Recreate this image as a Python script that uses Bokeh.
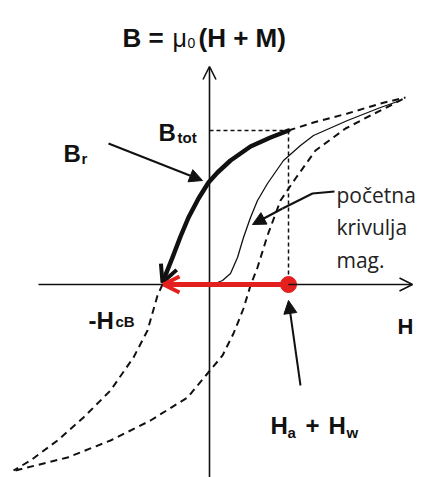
from bokeh.plotting import figure
from bokeh.models import Range1d, Arrow, OpenHead, NormalHead
from bokeh.embed import file_html
from bokeh.resources import INLINE
from bokeh.core.properties import value

# ---- curves, in diagram units (H to the right, B upward, origin at the axis crossing)
# descending branch, thick solid part (from B_tot down to -H_cB)
thick_H = [79, 61, 41, 21, 8, -1, -11, -21, -29, -37, -43]
thick_B = [154, 147, 138, 124, 112, 102, 86, 67, 48, 27, 12]
thick_tip = (-47, 2)
# descending branch, dashed, right of B_tot
upper_H = [79, 104, 138, 171, 196]
upper_B = [154, 162, 171, 181, 187]
# descending branch, dashed, below the H axis
left_H = [-47, -52, -62, -76, -99, -126, -152, -179, -196]
left_B = [0, -11, -46, -73, -106, -133, -156, -176, -186]
# ascending branch, dashed
asc_H = [-194, -142, -99, -59, -22, -2, 13, 24, 34, 41, 48, 58, 71, 86, 106, 136, 161, 181, 196]
asc_B = [-186, -173, -156, -136, -113, -89, -71, -49, -24, -1, 17, 49, 84, 106, 134, 156, 169, 179, 187]
# initial magnetisation curve (thin solid)
init_H = [3, 13, 21, 28, 34, 41, 48, 58, 74, 91, 104, 138, 171, 191]
init_B = [0, 4, 11, 27, 47, 67, 84, 101, 124, 139, 149, 164, 177, 184]

# working point
H_work = 79          # H_a + H_w
B_tot = 154
H_cB = -46

RED = "#e3201e"
INK = "#111111"

p = figure(width=421, height=477,
           x_range=Range1d(-209, 212), y_range=Range1d(-193, 284),
           x_axis_location=None, y_axis_location=None,
           output_backend="svg", toolbar_location=None, min_border=0)
p.grid.visible = False
p.outline_line_color = None
p.background_fill_color = "white"
p.border_fill_color = "white"

# axes with arrows
p.add_layout(Arrow(end=OpenHead(size=13, line_width=1.6, line_color=INK),
                   x_start=-171, y_start=0, x_end=203, y_end=0,
                   line_width=1.6, line_color=INK))
p.add_layout(Arrow(end=OpenHead(size=13, line_width=1.6, line_color=INK),
                   x_start=0, y_start=-195, x_end=0, y_end=218,
                   line_width=1.6, line_color=INK))

# dashed hysteresis parts
dash = "7 5"
p.line(upper_H, upper_B, line_width=2, line_color=INK, line_dash=dash)
p.line(left_H, left_B, line_width=2, line_color=INK, line_dash=dash)
p.line(asc_H, asc_B, line_width=2, line_color=INK, line_dash=dash)

# guides to B_tot
p.line([0, H_work], [B_tot, B_tot], line_width=1.5, line_color=INK, line_dash="4 3")
p.line([H_work, H_work], [B_tot, 0], line_width=1.5, line_color=INK, line_dash="4 3")

# initial curve
p.line(init_H, init_B, line_width=1.3, line_color=INK)

# thick recoil curve with arrow
p.line(thick_H, thick_B, line_width=4.5, line_color=INK, line_cap="round", line_join="round")
p.add_layout(Arrow(end=OpenHead(size=17, line_width=4, line_color=INK),
                   x_start=thick_H[-1], y_start=thick_B[-1],
                   x_end=thick_tip[0], y_end=thick_tip[1],
                   line_width=4.5, line_color=INK))

# red demagnetising arrow
p.add_layout(Arrow(end=OpenHead(size=16, line_width=4, line_color=RED),
                   x_start=H_work, y_start=0, x_end=H_cB, y_end=0,
                   line_width=5, line_color=RED))
p.scatter([H_work], [0], size=16, color=RED)

# pointer arrows
def pointer(x0, y0, x1, y1):
    p.add_layout(Arrow(end=NormalHead(size=13, fill_color=INK, line_color=INK),
                       x_start=x0, y_start=y0, x_end=x1, y_end=y1,
                       line_width=2, line_color=INK))

pointer(-101, 141, -7, 104)                # B_r
p.line([125, 103, 73], [93, 91, 76], line_width=2, line_color=INK)
pointer(73, 76, 43, 60)                    # pocetna krivulja
pointer(91, -101, 79, -16)                 # H_a + H_w

# ---- labels
# title B = mu0(H + M)
p.text([-87, -11], [247, 247], text=["B =", "(H + M)"], text_font=value("Liberation Sans"),
       text_font_size="26px", text_font_style="bold", text_color=INK,
       text_baseline="alphabetic", text_align="left")
p.text([-37], [247], text=["μ"], text_font=value("Liberation Sans"),
       text_font_size="25px", text_color=INK,
       text_baseline="alphabetic", text_align="left")
p.text([-22], [242], text=["0"], text_font=value("Liberation Sans"),
       text_font_size="14px", text_color=INK,
       text_baseline="alphabetic", text_align="left")

big_text = ["B", "B", "-H", "H", "+", "H"]
big_x = [-51, -146, -121, 61, 96, 119]
big_y = [152, 131, -36, -141, -141, -141]
p.text(big_x, big_y, text=big_text, text_font=value("Liberation Sans"),
       text_font_size="24px", text_font_style="bold", text_color=INK,
       text_baseline="alphabetic", text_align="left")

p.text([188], [-42], text=["H"], text_font=value("Liberation Sans"),
       text_font_size="22px", text_font_style="bold", text_color=INK,
       text_baseline="alphabetic", text_align="left")

sub_text = ["tot", "r", "cB", "a", "w"]
sub_x = [-32, -128, -94, 78, 137]
sub_y = [147, 126, -37, -148, -148]
p.text(sub_x, sub_y, text=sub_text, text_font=value("Liberation Sans"),
       text_font_size="15px", text_font_style="bold", text_color=INK,
       text_baseline="alphabetic", text_align="left")

note_text = ["početna", "krivulja", "mag."]
note_x = [127, 127, 127]
note_y = [90, 58, 25]
p.text(note_x, note_y, text=note_text, text_font=value("Open Sans"),
       text_font_size="21px", text_color="#222222",
       text_baseline="alphabetic", text_align="left")

open("out.html", "w").write(file_html(p, INLINE))
